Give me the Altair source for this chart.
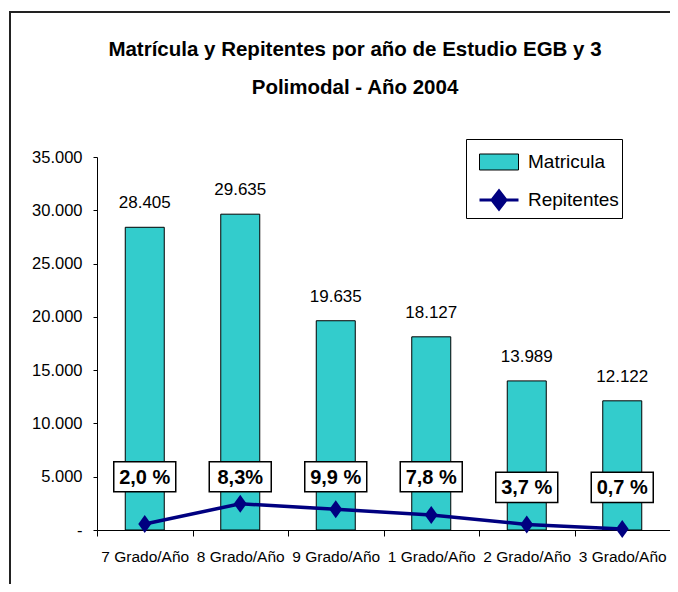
import altair as alt
import pandas as pd

categorias = ["7 Grado/Año", "8 Grado/Año", "9 Grado/Año", "1 Grado/Año", "2 Grado/Año", "3 Grado/Año"]
matricula = [28405, 29635, 19635, 18127, 13989, 12122]
repitentes = [568, 2460, 1944, 1414, 518, 85]
pct_labels = ["2,0 %", "8,3%", "9,9 %", "7,8 %", "3,7 %", "0,7 %"]
pct_label_y = [5000, 5000, 5000, 5000, 4000, 4000]
y_ticks = [0, 5000, 10000, 15000, 20000, 25000, 30000, 35000]
series = ["Matricula", "Repitentes"]
title_lines = ["Matrícula y Repitentes por año de Estudio EGB y 3", "Polimodal - Año 2004"]

FONT = "Liberation Sans, Arial, sans-serif"
TURQ = "#33CCCC"
NAVY = "#000080"

df = pd.DataFrame({
    "cat": categorias,
    "matricula": matricula,
    "repitentes": repitentes,
    "pct": pct_labels,
    "pct_y": pct_label_y,
})

x = alt.X("cat:N", sort=categorias, title=None,
          scale=alt.Scale(paddingInner=0, paddingOuter=0),
          axis=alt.Axis(labelAngle=0, labelFont=FONT, labelFontSize=15.5, labelColor="black",
                        labelPadding=13, tickBand="extent", tickSize=6, tickColor="black",
                        domainColor="black", labelLimit=200, grid=False))
yscale = alt.Scale(domain=[0, 35000], nice=False)
y = alt.Y("matricula:Q", scale=yscale, title=None,
          axis=alt.Axis(values=y_ticks, grid=False, tickSize=4, tickColor="black", domainColor="black",
                        labelFont=FONT, labelFontSize=16.5, labelColor="black", labelPadding=11,
                        labelExpr="datum.value == 0 ? '-' : replace(format(datum.value, ','), ',', '.')"))

base = alt.Chart(df)

bars = base.mark_bar(width=39, fill=TURQ, stroke="black", strokeWidth=1).encode(x=x, y=y)

bar_labels = base.transform_calculate(
    lbl="replace(format(datum.matricula, ','), ',', '.')"
).mark_text(font=FONT, fontSize=17, color="black", baseline="alphabetic", dy=-19).encode(
    x=alt.X("cat:N", sort=categorias), y=alt.Y("matricula:Q", scale=yscale), text="lbl:N")

line = base.mark_line(color=NAVY, strokeWidth=3.5).encode(
    x=alt.X("cat:N", sort=categorias), y=alt.Y("repitentes:Q", scale=yscale))

diamond = "M0,-1L0.72,0L0,1L-0.72,0Z"
points = base.mark_point(shape=diamond, size=324, filled=True, color=NAVY, opacity=1).encode(
    x=alt.X("cat:N", sort=categorias), y=alt.Y("repitentes:Q", scale=yscale))

boxes = base.mark_point(shape="M-1,-0.484H1V0.484H-1Z", size=3844, fill="white", stroke="black",
                        strokeWidth=1.5, opacity=1, filled=False).encode(
    x=alt.X("cat:N", sort=categorias), y=alt.Y("pct_y:Q", scale=yscale))

box_text = base.mark_text(font=FONT, fontSize=20, fontWeight="bold", color="black",
                          baseline="middle", dy=1).encode(
    x=alt.X("cat:N", sort=categorias), y=alt.Y("pct_y:Q", scale=yscale), text="pct:N")

# legend (single merged legend from a hidden layer)
rect_path = "M-1,-0.41H1V0.41H-1Z"
line_path = "M-1,0H1M0,-0.46L0.36,0L0,0.46L-0.36,0Z"
leg_df = pd.DataFrame({"serie": series})
legend_layer = alt.Chart(leg_df).mark_point(size=0, filled=True, opacity=1).encode(
    shape=alt.Shape("serie:N", scale=alt.Scale(domain=series, range=[rect_path, line_path]), title=None),
    fill=alt.Fill("serie:N", scale=alt.Scale(domain=series, range=[TURQ, NAVY]), title=None),
    stroke=alt.Stroke("serie:N", scale=alt.Scale(domain=series, range=["black", NAVY]), title=None),
    strokeWidth=alt.StrokeWidth("serie:N", scale=alt.Scale(domain=series, range=[1, 3]), title=None),
)

frame = alt.Chart(pd.DataFrame({"a": [0]})).mark_rect(filled=False, stroke="#222222", strokeWidth=2).encode(
    x=alt.value(-87), x2=alt.value(620), y=alt.value(-145), y2=alt.value(460))

t1 = alt.Chart(pd.DataFrame({"t": [title_lines[0]]})).mark_text(
    font=FONT, fontSize=20.5, fontWeight="bold", color="black", align="center", baseline="alphabetic"
).encode(x=alt.value(258), y=alt.value(-101), text="t:N")
t2 = alt.Chart(pd.DataFrame({"t": [title_lines[1]]})).mark_text(
    font=FONT, fontSize=20.5, fontWeight="bold", color="black", align="center", baseline="alphabetic"
).encode(x=alt.value(258), y=alt.value(-63), text="t:N")

chart = alt.layer(frame, t1, t2, bars, bar_labels, line, points, boxes, box_text, legend_layer).properties(
    width=573, height=373,
    autosize=alt.AutoSizeParams(type="none"),
    padding={"left": 89, "top": 149, "right": 0, "bottom": 54},
    background="white",
).configure_view(stroke=None).configure_legend(
    orient="none", legendX=369, legendY=-18, padding=3, strokeColor="black", fillColor="white",
    symbolSize=1521, symbolOffset=9, labelFont=FONT, labelFontSize=19, labelColor="black",
    labelOffset=8, rowPadding=7, titlePadding=0, symbolStrokeWidth=1, symbolOpacity=1
)

chart.save("out.html", embed_options={"renderer": "svg", "actions": False})
